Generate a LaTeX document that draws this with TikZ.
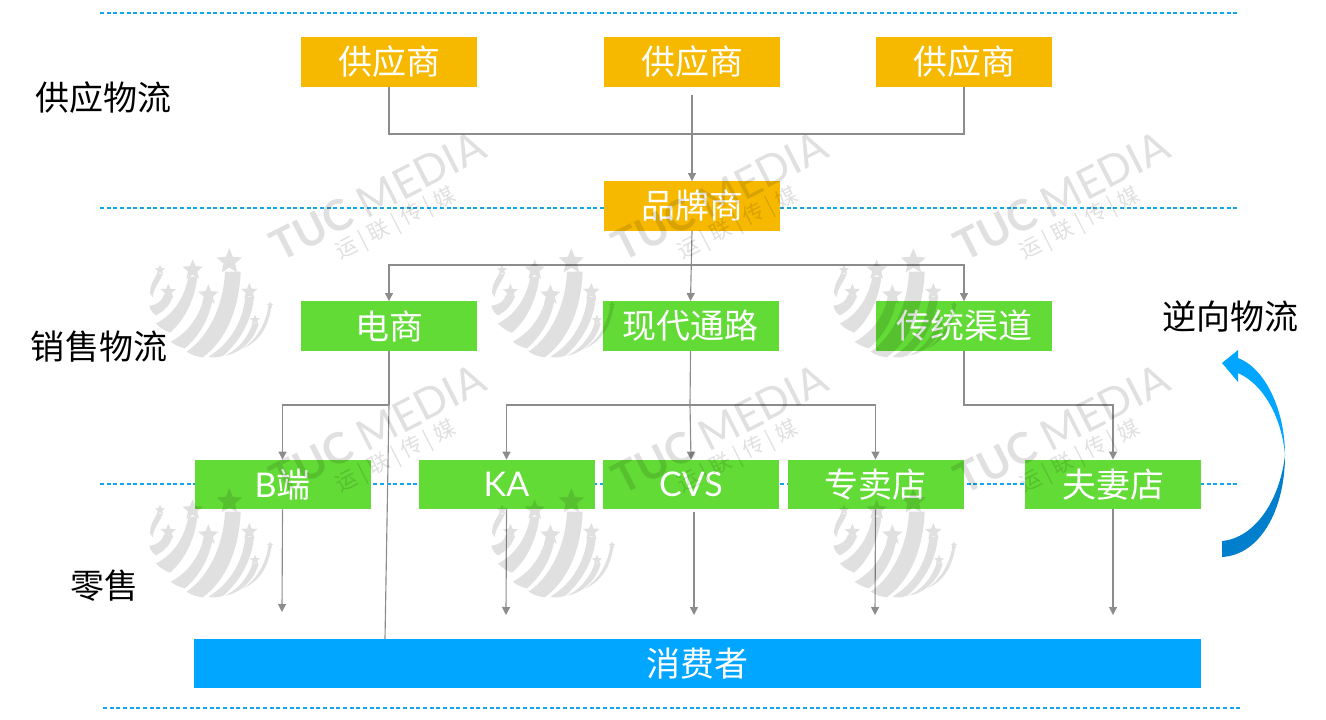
\documentclass[tikz,border=0pt]{standalone}
\usepackage{fontspec}
\setmainfont{Noto Sans CJK SC}
\newfontfamily\latinfont{Lato}
\usetikzlibrary{arrows.meta}
\definecolor{SupplyGold}{RGB}{247, 185, 0}
\definecolor{SalesGreen}{RGB}{98, 219, 54}
\definecolor{BuyerBlue}{RGB}{0, 166, 255}
\definecolor{ReturnDark}{RGB}{0, 128, 204}
\definecolor{RuleBlue}{RGB}{20, 165, 235}
\definecolor{LinkGray}{RGB}{140, 140, 140}
\tikzset{
    flowbox/.style={inner sep=0pt, minimum width=132pt, minimum height=37pt, text=white, font=\fontsize{25.5}{25.5}\selectfont},
    supplybox/.style={flowbox, fill=SupplyGold},
    salesbox/.style={flowbox, fill=SalesGreen},
    stagelabel/.style={inner sep=0pt, text=black, font=\fontsize{25.5}{25.5}\selectfont},
    tierrule/.style={RuleBlue, line width=.8pt, dash pattern=on 3pt off 2pt},
    linkline/.style={LinkGray, line width=.85pt},
    linkarrow/.style={linkline, -{Triangle[length=6pt, width=6pt]}},
}
\newcommand{\wmstar}[3]{(#1,#2) +(-90:#3) -- +(-54:{.45*#3}) -- +(-18:#3) -- +(18:{.45*#3}) -- +(54:#3) -- +(90:{.45*#3}) -- +(126:#3) -- +(162:{.45*#3}) -- +(198:#3) -- +(234:{.45*#3}) -- cycle}
\newcommand{\wmlogo}{%
    \fill \wmstar{268}{65}{40} \wmstar{158}{90}{32} \wmstar{60}{90}{16} \wmstar{205}{165}{32}
        \wmstar{85}{155}{24} \wmstar{328}{155}{26} \wmstar{345}{240}{16} \wmstar{390}{195}{11};
    \fill (255,95) .. controls (250,200) and (205,290) .. (140,335) .. controls (155,345) and (170,350) .. (188,352) .. controls (255,305) and (298,210) .. (302,95) -- cycle;
    \fill (190,180) .. controls (175,235) and (140,280) .. (92,305) .. controls (105,315) and (120,322) .. (135,325) .. controls (175,290) and (208,240) .. (218,175) -- cycle;
    \fill (145,110) .. controls (135,170) and (100,225) .. (48,250) .. controls (60,265) and (75,272) .. (90,278) .. controls (130,245) and (165,180) .. (172,110) -- cycle;
    \fill (72,165) .. controls (65,185) and (50,195) .. (28,197) .. controls (30,210) and (40,222) .. (48,226) .. controls (70,215) and (92,195) .. (98,168) -- cycle;
    \fill (52,100) .. controls (45,115) and (30,130) .. (30,160) .. controls (35,165) and (36,170) .. (38,172) .. controls (40,145) and (60,125) .. (68,102) -- cycle;
    \fill (316,170) .. controls (308,250) and (265,315) .. (205,350) .. controls (218,354) and (235,352) .. (250,347) .. controls (298,305) and (335,245) .. (342,170) -- cycle;
    \fill (338,250) .. controls (320,300) and (290,330) .. (255,347) .. controls (300,340) and (345,300) .. (356,250) -- cycle;
    \fill (385,200) .. controls (375,260) and (345,300) .. (310,325) .. controls (355,305) and (385,265) .. (394,200) -- cycle;
}
\begin{document}
\begin{tikzpicture}[x=.75pt, y=-.75pt]
    \useasboundingbox (0,0) rectangle (1326,720);
    \coordinate (ruleA) at (100,13);
    \coordinate (ruleAend) at (1238,13);
    \coordinate (ruleB) at (100,208);
    \coordinate (ruleBend) at (1238,208);
    \coordinate (ruleC) at (100,484);
    \coordinate (ruleCend) at (1238,484);
    \coordinate (ruleD) at (103,708);
    \coordinate (ruleDend) at (1240,708);
    \draw[tierrule] (ruleA) -- (ruleAend);
    \draw[tierrule] (ruleB) -- (ruleBend);
    \draw[tierrule] (ruleC) -- (ruleCend);
    \draw[tierrule] (ruleD) -- (ruleDend);

    \node[supplybox] (supplierA) at (389,62) {供应商};
    \node[supplybox] (supplierB) at (692,62) {供应商};
    \node[supplybox] (supplierC) at (964,62) {供应商};
    \node[supplybox] (brand) at (692,206) {品牌商};
    \node[salesbox] (ecom) at (389,326) {电商};
    \node[salesbox] (modern) at (690.5,326) {现代通路};
    \node[salesbox] (general) at (964,326) {传统渠道};
    \node[salesbox] (bizend) at (282.5,484.5) {{\latinfont B}端};
    \node[salesbox] (keyacct) at (506.5,484.5) {{\latinfont KA}};
    \node[salesbox] (cvs) at (691,484.5) {{\latinfont CVS}};
    \node[salesbox] (specialty) at (875.5,484.5) {专卖店};
    \node[salesbox] (family) at (1113,484.5) {夫妻店};
    \node[flowbox, fill=BuyerBlue, minimum width=755pt] (buyer) at (697.5,663.5) {消费者};

    \node[stagelabel] (supplylabel) at (103,98) {供应物流};
    \node[stagelabel] (saleslabel) at (99,347) {销售物流};
    \node[stagelabel] (retaillabel) at (104,586) {零售};
    \node[stagelabel] (returnlabel) at (1230,316) {逆向物流};

    \coordinate (supplybus) at (389,134);
    \coordinate (supplystart) at (692,95);
    \coordinate (brandbus) at (691,265);
    \coordinate (ecombus) at (389,405);
    \coordinate (modernbus) at (690,405);
    \coordinate (generalbus) at (964,405);
    \coordinate (bizendtip) at (282,612);
    \coordinate (keyaccttip) at (506,615);
    \coordinate (cvsstart) at (694,512);
    \coordinate (cvstip) at (694,615);
    \coordinate (specialtytip) at (875,615);
    \coordinate (familytip) at (1113,615);
    \coordinate (buyerjoin) at (385,639);

    \draw[linkline] (supplierA.south) |- (supplybus) -| (supplierC.south);
    \draw[linkarrow] (supplystart) -- (brand.north);
    \draw[linkarrow] (brand.south) -- (modern.north);
    \draw[linkarrow] (brandbus) -| (ecom.north);
    \draw[linkarrow] (brandbus) -| (general.north);
    \draw[linkarrow] (ecombus) -| (bizend.north);
    \draw[linkline] (ecom.south) -- (ecombus);
    \draw[linkline] (ecombus) -- (buyerjoin);
    \draw[linkarrow] (modern.south) -- (modernbus) -- (cvs.north);
    \draw[linkarrow] (modernbus) -| (keyacct.north);
    \draw[linkarrow] (modernbus) -| (specialty.north);
    \draw[linkarrow] (general.south) -- (generalbus) -| (family.north);
    \draw[linkarrow] (bizend.south) -- (bizendtip);
    \draw[linkarrow] (keyacct.south) -- (keyaccttip);
    \draw[linkarrow] (cvsstart) -- (cvstip);
    \draw[linkarrow] (specialty.south) -- (specialtytip);
    \draw[linkarrow] (family.south) -- (familytip);

    \fill[BuyerBlue] (1222,363) -- (1238,350) -- (1238,358) .. controls (1265,368) and (1285,410) .. (1285,455) .. controls (1282,420) and (1265,385) .. (1238,373) -- (1238,382) -- cycle;
    \fill[ReturnDark] (1285,455) .. controls (1285,510) and (1260,555) .. (1222,557) -- (1222,541) .. controls (1255,538) and (1280,500) .. (1285,455) -- cycle;

    \begin{scope}[transparency group, opacity=.12]
        \foreach \col in {0,1,2} {
            \foreach \row in {0,1} {
                \begin{scope}[shift={({342*\col},{233*\row})}]
                    \node[rotate=27, inner sep=0pt, font=\fontsize{32}{32}\selectfont\latinfont] (wmtext\col\row) at (378,196) {\textbf{TUC} MEDIA};
                    \node[rotate=27, inner sep=0pt, font=\fontsize{16}{16}\selectfont] (wmsub\col\row) at (396,224) {运 | 联 | 传 | 媒};
                \end{scope}
                \begin{scope}[shift={({140+342*\col},{240+240*\row})}, x=.25pt, y=-.25pt]
                    \wmlogo
                \end{scope}
            }
        }
    \end{scope}
\end{tikzpicture}
\end{document}
